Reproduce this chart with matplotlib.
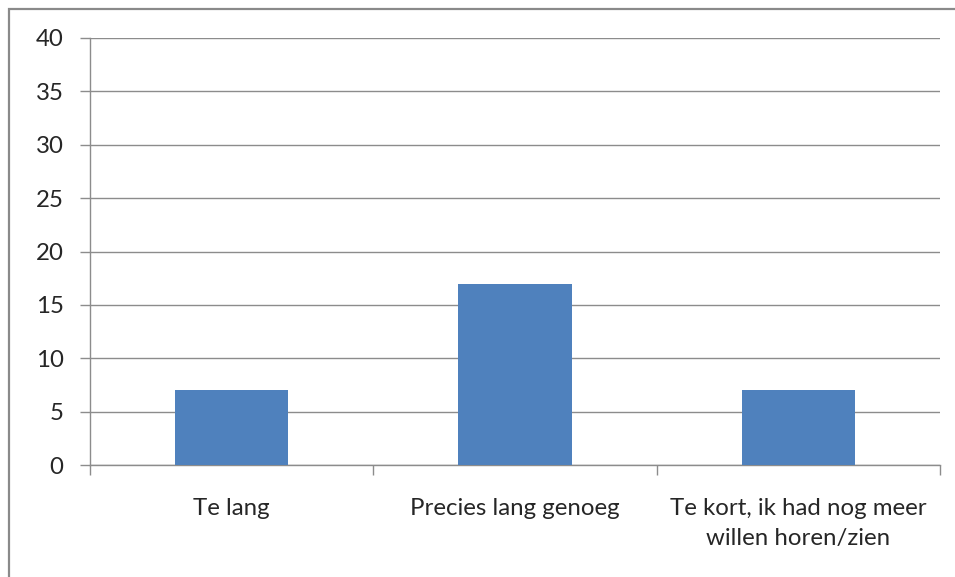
import numpy as np
import matplotlib.pyplot as plt
from matplotlib.patches import Rectangle

plt.rcParams["font.family"] = ["Lato", "DejaVu Sans"]

categories = ["Te lang", "Precies lang genoeg", "Te kort, ik had nog meer\nwillen horen/zien"]
counts = [7, 17, 7]
y_ticks = [0, 5, 10, 15, 20, 25, 30, 35, 40]

bar_color = "#4F81BD"
grid_color = "#8C8C8C"
text_color = "#262626"

fig = plt.figure(figsize=(9.55, 5.77), dpi=100)
W, H = 955, 577

# outer chart frame (only top and left edge fall inside the image)
fig.patches.append(Rectangle((9 / W, -0.2), 1.2, 1.2 - 9 / H,
                             transform=fig.transFigure, fill=False,
                             edgecolor="#8A8A8A", linewidth=1.6, clip_on=False))

ax = fig.add_axes([90 / W, 1 - 465 / H, (940 - 90) / W, (465 - 38) / H])

x = np.arange(len(categories))
ax.bar(x, counts, width=0.4, color=bar_color, zorder=3)

ax.set_xlim(-0.5, len(categories) - 0.5)
ax.set_ylim(0, 40)
ax.set_yticks(y_ticks)
ax.yaxis.grid(True, color=grid_color, linewidth=1.0, zorder=0)

ax.set_xticks(x)
ax.set_xticklabels(categories, fontsize=17.3, color=text_color, linespacing=1.5)
ax.set_xticks(np.arange(len(categories) + 1) - 0.5, minor=True)
ax.tick_params(axis="x", which="major", length=0, pad=24)
ax.tick_params(axis="x", which="minor", length=7, width=1.0, color=grid_color)
ax.tick_params(axis="y", length=7, width=1.0, color=grid_color, pad=12,
               labelsize=17.3, labelcolor=text_color)

for side in ["top", "right"]:
    ax.spines[side].set_visible(False)
for side in ["left", "bottom"]:
    ax.spines[side].set_color(grid_color)
    ax.spines[side].set_linewidth(1.0)

fig.savefig("out.png", dpi=100)
